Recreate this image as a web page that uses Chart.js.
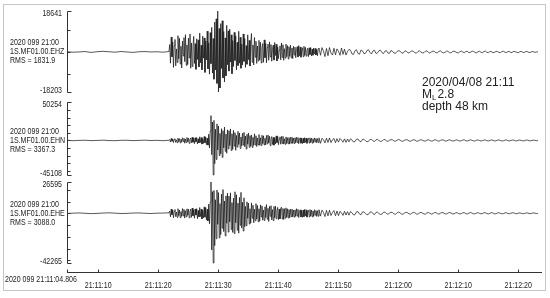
<!DOCTYPE html>
<html>
<head>
<meta charset="utf-8">
<script src="https://cdn.jsdelivr.net/npm/chart.js@4/dist/chart.umd.min.js"></script>
<style>
  html, body { margin: 0; padding: 0; background: #fff; }
  #wrap { width: 550px; height: 298px; }
</style>
</head>
<body>
<div id="wrap"><canvas id="seis" width="550" height="298"></canvas></div>
<script>
/* Three-component seismogram, station 1S.MF01, 2020-04-08 21:11 event */

// time axis: seconds after 21:11:00
const startSec = 4.806;          // 2020 099 21:11:04.806
const endSec = 83.8;
const tickSecs = [10, 20, 30, 40, 50, 60, 70, 80];
const tickLabels = ['21:11:10', '21:11:20', '21:11:30', '21:11:40', '21:11:50', '21:12:00', '21:12:10', '21:12:20'];

const stamp = '2020 099 21:00';
const startLabel = '2020 099 21:11:04.806';
const channels = ['1S.MF01.00.EHZ', '1S.MF01.00.EHN', '1S.MF01.00.EHE'];
const rms = ['1831.9', '3367.3', '3088.0'];
const peakMax = [18641, 50254, 26595];
const peakMin = [-18203, -45108, -42265];

// samples, in thousands of counts
const preStart = 4.8, preStep = 1;        // quiet part before the P arrival
const burstStart = 21.8, burstStep = 0.125; // P and S phases
const codaStart = 46.8, codaStep = 0.25;  // decaying coda

const preZ = [0.1, -0.1, 0.0, 0.2, -0.2, 0.1, 0.3, 0.1, -0.1, 0.2, 0.0, -0.2, 0.1, 0.2, 0.0, 0.1, -0.1];
const preN = [0.2, -0.3, 0.1, 0.3, -0.2, 0.0, 0.4, -0.1, -0.3, 0.2, 0.3, -0.2, 0.1, 0.4, -0.1, 0.2, -0.3];
const preE = [-0.2, 0.1, 0.3, 0.0, -0.3, -0.1, 0.2, 0.4, 0.1, -0.2, -0.1, 0.2, 0.3, 0.0, -0.2, 0.1, 0.2];

const burstZ = [
  0.2, 3.4, -5.1, 6.8, -2.2, 4.6, -7.0, 2.9, 5.7, -6.3,
  1.4, -4.8, 7.4, -3.1, 6.2, -5.5, 2.6, -7.3, 4.9, -1.8,
  6.6, -4.4, 7.9, -6.1, 3.2, -5.7, 6.3, -2.7, 8.2, -7.4,
  4.1, -6.6, 2.3, 7.1, -5.2, 3.8, -7.9, 6.0, -3.4, 5.5,
  -6.8, 8.6, -4.9, 3.1, -8.1, 7.2, -2.8, 6.4, -9.3, 5.0,
  -3.6, 9.5, -7.7, 4.2, -10.1, 8.8, -5.3, 11.2, -9.6, 6.1,
  -12.4, 13.6, -8.2, 15.1, -14.3, 18.6, -18.2, 10.7, -16.4, 12.9,
  -7.5, 14.2, -11.8, 9.3, -13.6, 6.4, -10.9, 12.1, -5.8, 9.6,
  -8.7, 10.4, -4.6, 7.8, -9.9, 5.2, -6.6, 8.9, -3.9, 7.3,
  -8.1, 4.4, -6.2, 9.4, -5.1, 6.7, -7.4, 3.6, -5.9, 8.2,
  -4.3, 6.1, -7.0, 2.9, -5.6, 7.8, -3.5, 5.3, -6.4, 4.0,
  8.4, -4.7, 3.2, -5.9, 6.6, -2.4, 4.9, -5.2, 2.7, -4.1,
  5.3, -3.6, 4.4, -5.0, 1.9, 3.8, -4.7, 5.5, -2.6, 3.9,
  -4.9, 2.1, 3.6, -3.8, 4.6, -2.3, 3.4, -4.2, 1.2, 3.1,
  -3.7, 4.3, -1.6, 3.5, -4.1, 2.2, -3.0, 0.9, 2.8, -3.6,
  4.1, -2.5, 3.3, -3.8, 1.5, -2.8, 3.6, -2.1, 2.9, -3.2,
  2.4, -2.0, 3.1, -2.7, 1.8, -3.0, 2.6, -1.4, 2.2, -2.6,
  1.1, 2.4, -2.3, 2.9, -1.7, 2.3, -2.4, 0.7, 1.9, -2.2,
  2.6, -1.6, 2.1, -1.9, 0.8, 1.7, -2.1, 1.9, -1.2, 2.0,
  -1.8, 1.3, -1.5, 1.8, -0.9, 1.6, -1.4, 1.1, -1.7, 1.5
];

const burstN = [
  0.3, 1.2, -2.1, 2.6, -1.0, 1.9, -2.8, 1.4, 2.3, -2.5,
  0.8, -2.9, 3.1, -1.6, 2.4, -3.2, 1.7, -2.2, 3.5, -1.3,
  2.8, -3.6, 2.0, -2.7, 3.9, -1.9, 3.1, -3.8, 1.5, 3.3,
  -3.0, 4.2, -2.4, 2.9, -4.1, 3.6, -1.8, 3.7, -4.5, 2.2,
  -3.3, 4.8, -2.6, 3.9, -4.7, 2.5, -3.8, 5.2, -3.1, 4.4,
  -5.6, 3.0, -6.1, 8.2, -9.8, 12.4, 32.4, -18.6, 24.1, -45.1,
  26.3, -30.4, 14.6, -24.8, 21.7, -12.5, 18.9, -19.8, 9.2, -17.3,
  15.4, -22.1, 12.8, -9.6, 17.5, -14.2, 8.3, -16.7, 13.9, -11.0,
  12.8, -6.6, 15.1, -13.1, 8.7, -11.6, 13.3, -7.4, 10.2, -12.8,
  6.6, -8.7, 11.9, -5.2, 9.8, -10.4, 4.5, -7.1, 9.4, -6.0,
  10.6, -8.3, 5.7, -11.2, 8.1, -4.9, 9.7, -9.0, 6.3, -7.6,
  7.3, -9.2, 4.1, -6.4, 8.7, -5.8, 6.2, -8.0, 3.3, -5.9,
  7.8, -6.4, 3.5, -6.6, 6.9, -4.2, 6.1, -5.9, 2.8, -5.7,
  6.5, -4.4, 7.2, -3.1, 5.6, -6.8, 2.4, 5.1, -5.3, 4.0,
  -6.2, 3.7, -4.6, 6.0, -2.9, 5.2, -5.5, 1.8, 4.7, -4.9,
  5.3, -3.9, 5.4, -4.8, 2.2, -5.0, 4.6, -3.9, 3.6, -4.4,
  3.8, -4.7, 4.1, -3.5, 4.4, -3.9, 3.2, -4.0, 3.6, -3.1,
  4.2, -2.6, 3.9, -4.3, 1.9, 3.4, -3.6, 2.8, -4.1, 3.0,
  -3.3, 3.7, -2.4, 3.2, -3.8, 1.6, 2.9, -3.4, 3.5, -2.7,
  3.1, -3.5, 2.2, -2.9, 3.3, -1.8, 2.6, -3.0, 2.4, -2.8
];

const burstE = [
  0.4, 1.9, -3.0, 3.6, -1.2, 2.7, -3.8, 1.6, 3.2, -2.9,
  1.1, -3.5, 3.9, -2.0, 2.8, -3.7, 1.4, -2.6, 4.0, -2.2,
  3.3, -4.1, 2.2, -3.0, 3.8, -1.7, 3.5, -3.9, 1.3, 3.6,
  -3.4, 4.4, -2.1, 3.0, -4.2, 3.7, -1.5, 3.9, -4.6, 2.4,
  -3.1, 4.9, -2.8, 3.6, -4.8, 2.6, -3.9, 5.4, -3.3, 4.7,
  -5.8, 3.4, -6.5, 7.8, -8.9, 9.6, 26.6, -31.2, 18.4, -42.3,
  19.4, -27.5, 11.5, -21.6, 19.8, -9.4, 17.6, -20.9, 8.2, -18.1,
  16.3, -12.7, 20.2, -15.6, 10.4, -19.3, 14.8, -8.5, 17.1, -16.0,
  14.6, -7.2, 17.4, -13.8, 9.1, -16.3, 12.9, -17.2, 18.3, -8.1,
  15.7, -14.4, 8.6, -16.9, 13.5, -10.2, 17.8, -12.6, 9.3, -15.1,
  13.2, -11.4, 5.8, -10.6, 9.7, -4.3, 8.6, -9.2, 3.9, -8.4,
  8.8, -4.2, 6.9, -8.1, 3.5, -6.4, 8.2, -4.9, 6.6, -7.3,
  3.8, -6.7, 7.1, -3.2, 6.3, -5.9, 2.8, -6.1, 5.5, -3.6,
  7.4, -5.1, 4.2, -7.0, 5.9, -2.6, 6.4, -5.6, 3.1, -6.2,
  5.8, -3.9, 6.1, -4.7, 2.3, 5.0, -5.4, 3.6, -4.8, 4.4,
  5.2, -4.9, 4.1, -5.3, 3.9, -4.2, 4.6, -3.5, 3.8, -4.0,
  3.2, -3.7, 3.4, -2.9, 3.6, -3.1, 2.7, -3.3, 2.9, -2.6,
  3.9, -2.4, 3.3, -3.6, 1.7, 2.9, -3.2, 2.5, -3.4, 2.8,
  -3.0, 3.4, -2.2, 2.9, -3.3, 1.4, 2.6, -3.1, 3.2, -2.4,
  2.8, -3.1, 2.0, -2.6, 3.0, -1.6, 2.4, -2.7, 2.2, -2.5
];

const codaZ = [
  1.8, -1.5, 2.0, 0.4, -2.1, 1.6, -1.7, 2.0, -0.5, -1.4,
  1.7, -1.3, 1.4, 0.3, -1.5, 1.8, -1.1, 1.3, -1.4, 0.2,
  1.2, 0.8, -0.9, -1.1, 0.6, 1.0, -0.7, -1.0, 0.9, 0.5,
  -0.8, -0.6, 0.7, 1.0, -0.2, -0.9, 0.5, 0.8, -0.7, -0.4,
  0.6, 0.8, -0.3, -0.7, 0.4, 0.6, -0.5, -0.6, 0.7, 0.3,
  -0.5, -0.6, 0.2, 0.6, 0.4, -0.4, -0.6, 0.3, 0.5, -0.2,
  -0.5, 0.1, 0.5, 0.3, -0.4, -0.5, 0.2, 0.6, -0.1, -0.4,
  -0.3, 0.4, 0.5, -0.2, -0.5, 0.1, 0.4, 0.2, -0.4, -0.3,
  0.3, 0.5, -0.1, -0.4, -0.2, 0.4, 0.3, -0.3, -0.4, 0.2,
  0.4, 0.1, -0.3, -0.4, 0.2, 0.4, -0.1, -0.3, 0.3, 0.2,
  -0.3, -0.2, 0.4, 0.3, -0.2, -0.4, 0.1, 0.3, -0.1, -0.3,
  0.2, 0.4, -0.2, -0.3, 0.3, 0.1, -0.3, -0.2, 0.3, 0.2,
  -0.2, -0.3, 0.2, 0.3, -0.1, -0.3, 0.2, 0.2, -0.3, -0.1,
  0.3, 0.1, -0.2, -0.3, 0.2, 0.2, -0.2, -0.2, 0.3, 0.1,
  -0.2, -0.2, 0.2, 0.1, -0.2, 0.0, 0.1
];

const codaN = [
  3.4, -3.7, 2.9, 0.8, -3.2, 3.0, -2.6, 3.3, -2.8, 1.0,
  2.7, -2.9, 2.4, -2.2, 2.6, 0.5, -2.3, 2.1, -2.5, 1.9,
  -1.8, 2.2, 0.6, -1.9, -1.5, 1.7, 1.9, -0.8, -1.8, 1.4,
  1.6, -0.4, -1.7, -1.2, 1.3, 1.5, -0.6, -1.4, 0.9, 1.3,
  -0.2, -1.3, -0.9, 1.1, 1.2, -0.5, -1.2, 0.3, 1.1, 0.8,
  -0.7, -1.1, 0.4, 1.2, 0.6, -0.9, -1.0, 0.3, 0.9, 0.7,
  -0.6, -1.0, 0.2, 1.0, 0.5, -0.8, -0.9, 0.4, 1.0, 0.2,
  -0.7, -0.8, 0.5, 0.9, -0.1, -0.9, -0.4, 0.8, 0.7, -0.5,
  -0.9, 0.1, 0.8, 0.5, -0.6, -0.8, 0.3, 0.9, 0.2, -0.7,
  -0.6, 0.4, 0.8, -0.2, -0.8, -0.3, 0.7, 0.6, -0.5, -0.7,
  0.2, 0.8, 0.3, -0.6, -0.7, 0.4, 0.7, -0.1, -0.7, -0.2,
  0.6, 0.6, -0.4, -0.7, 0.1, 0.7, 0.3, -0.6, -0.5, 0.4,
  0.7, -0.1, -0.6, -0.4, 0.5, 0.6, -0.3, -0.6, 0.1, 0.6,
  0.4, -0.5, -0.5, 0.3, 0.6, -0.1, -0.5, -0.3, 0.4, 0.5,
  -0.2, -0.5, 0.1, 0.4, 0.2, -0.3, -0.1
];

const codaE = [
  3.0, -2.4, 2.7, 0.6, -2.8, 2.5, -2.2, 2.6, -1.9, 0.7,
  2.3, -2.1, 1.9, -2.0, 1.6, 0.4, -1.8, 1.7, -1.5, 1.4,
  -1.6, 1.5, 0.5, -1.4, -1.2, 1.3, 1.4, -0.6, -1.3, 1.1,
  1.2, -0.3, -1.3, -0.9, 1.0, 1.2, -0.4, -1.1, 0.7, 1.0,
  -0.2, -1.0, -0.7, 0.9, 1.0, -0.3, -0.9, 0.2, 0.9, 0.6,
  -0.5, -0.9, 0.3, 1.0, 0.5, -0.7, -0.8, 0.2, 0.8, 0.5,
  -0.5, -0.8, 0.2, 0.8, 0.4, -0.6, -0.7, 0.3, 0.8, 0.1,
  -0.6, -0.7, 0.4, 0.7, -0.1, -0.7, -0.3, 0.6, 0.6, -0.4,
  -0.7, 0.1, 0.6, 0.4, -0.5, -0.6, 0.2, 0.7, 0.2, -0.5,
  -0.5, 0.3, 0.6, -0.2, -0.6, -0.2, 0.5, 0.5, -0.4, -0.5,
  0.2, 0.6, 0.2, -0.5, -0.5, 0.3, 0.5, -0.1, -0.5, -0.2,
  0.5, 0.4, -0.3, -0.5, 0.1, 0.5, 0.2, -0.4, -0.4, 0.3,
  0.5, -0.1, -0.4, -0.3, 0.4, 0.4, -0.2, -0.4, 0.1, 0.4,
  0.3, -0.3, -0.4, 0.2, 0.4, -0.1, -0.4, -0.2, 0.3, 0.3,
  -0.2, -0.3, 0.1, 0.3, 0.1, -0.2, 0.0
];

// layout of the three stacked panels (scale ranges leave a gap between brackets)
const axisIds = ['yZ', 'yN', 'yE'];
const axisMax = [18641, 56786, 29570];
const axisMin = [-20477, -49680, -49916];
const bandWeight = [86, 81.5, 93.5];

const smallFont = "8.8px 'Liberation Sans', Arial, sans-serif";
const squeeze = 0.8;   // the labels are set in a condensed face
const inkColor = '#222';

function series(pre, burst, coda) {
  const part = (vals, t0, dt) => vals.map((v, i) => ({ x: t0 + i * dt, y: v * 1000 }));
  return part(pre, preStart, preStep)
    .concat(part(burst, burstStart, burstStep))
    .concat(part(coda, codaStart, codaStep));
}

function traceScale(i) {
  return {
    type: 'linear',
    position: 'left',
    stack: 'traces',
    stackWeight: bandWeight[i],
    min: axisMin[i],
    max: axisMax[i],
    grid: { display: false },
    border: { display: false },
    ticks: { display: false },
    afterFit: s => { s.width = 67; }
  };
}

function squeezed(c, text, x, y, align) {
  c.save();
  c.translate(x, y);
  c.scale(squeeze, 1);
  c.textAlign = align;
  c.fillText(text, 0, 0);
  c.restore();
}

// brackets, labels, x tick marks and the event note
const decor = {
  id: 'decor',
  beforeDraw(chart) {
    const c = chart.ctx;
    c.save();
    c.fillStyle = '#fff';
    c.fillRect(0, 0, chart.width, chart.height);
    c.restore();
  },
  afterDraw(chart) {
    const c = chart.ctx, area = chart.chartArea, xs = chart.scales.x;
    c.save();
    c.lineWidth = 1;
    c.strokeStyle = '#c6c6c6';
    c.strokeRect(3.5, 4.5, 542, 286);

    c.strokeStyle = '#333';
    c.fillStyle = inkColor;
    c.font = smallFont;
    c.textBaseline = 'middle';
    const x0 = Math.round(area.left) + 0.5;
    axisIds.forEach((id, i) => {
      const s = chart.scales[id];
      const top = Math.round(s.getPixelForValue(peakMax[i])) + 0.5;
      const bot = Math.round(s.getPixelForValue(peakMin[i])) + 0.5;
      c.beginPath();
      c.moveTo(x0 + 4, top); c.lineTo(x0, top); c.lineTo(x0, bot); c.lineTo(x0 + 4, bot);
      for (let v = Math.ceil(peakMin[i] / 10000) * 10000; v <= peakMax[i]; v += 10000) {
        const y = Math.round(s.getPixelForValue(v)) + 0.5;
        c.moveTo(x0, y); c.lineTo(x0 + 3, y);
      }
      c.stroke();
      squeezed(c, String(peakMax[i]), 62, top + 2, 'right');
      squeezed(c, String(peakMin[i]), 62, bot - 2, 'right');

      const y0 = s.getPixelForValue(0);
      [stamp, channels[i], 'RMS = ' + rms[i]].forEach((t, k) => squeezed(c, t, 10, y0 + (k - 1) * 9, 'left'));
    });

    // x tick marks point up into the plot
    c.beginPath();
    const yb = Math.round(area.bottom) + 0.5;
    [startSec].concat(tickSecs).forEach(v => {
      const px = Math.round(xs.getPixelForValue(v)) + 0.5;
      c.moveTo(px, yb); c.lineTo(px, yb - 3);
    });
    c.stroke();
    tickSecs.forEach((v, k) => squeezed(c, tickLabels[k], xs.getPixelForValue(v), 286, 'center'));
    squeezed(c, startLabel, 5, 280, 'left');

    // event note
    const big = "12px 'Liberation Sans', Arial, sans-serif";
    const sub = "8px 'Liberation Sans', Arial, sans-serif";
    const nx = 422;
    c.textAlign = 'left';
    c.font = big;
    c.fillText('2020/04/08 21:11', nx, 83);
    c.fillText('M', nx, 95);
    const mw = c.measureText('M').width;
    c.font = sub;
    c.fillText('L', nx + mw, 98);
    const lw = c.measureText('L').width;
    c.font = big;
    c.fillText('2.8', nx + mw + lw + 1, 95);
    c.fillText('depth 48 km', nx, 107);
    c.restore();
  }
};

const traces = [
  series(preZ, burstZ, codaZ),
  series(preN, burstN, codaN),
  series(preE, burstE, codaE)
];

new Chart(document.getElementById('seis'), {
  type: 'line',
  data: {
    datasets: traces.map((d, i) => ({
      label: channels[i],
      data: d,
      yAxisID: axisIds[i],
      borderColor: '#111',
      borderWidth: 0.7,
      pointRadius: 0,
      tension: 0,
      fill: false
    }))
  },
  options: {
    responsive: false,
    animation: false,
    devicePixelRatio: 1,
    layout: { padding: { top: 11, right: 9, bottom: 0, left: 0 } },
    plugins: { legend: { display: false }, tooltip: { enabled: false } },
    scales: {
      x: {
        type: 'linear',
        min: startSec,
        max: endSec,
        grid: { display: false },
        border: { display: true, color: '#333', width: 1 },
        ticks: { display: false },
        afterFit: s => { s.height = 26; }
      },
      // stacked panels are placed bottom-up in definition order
      yE: traceScale(2),
      yN: traceScale(1),
      yZ: traceScale(0)
    }
  },
  plugins: [decor]
});
</script>
</body>
</html>
